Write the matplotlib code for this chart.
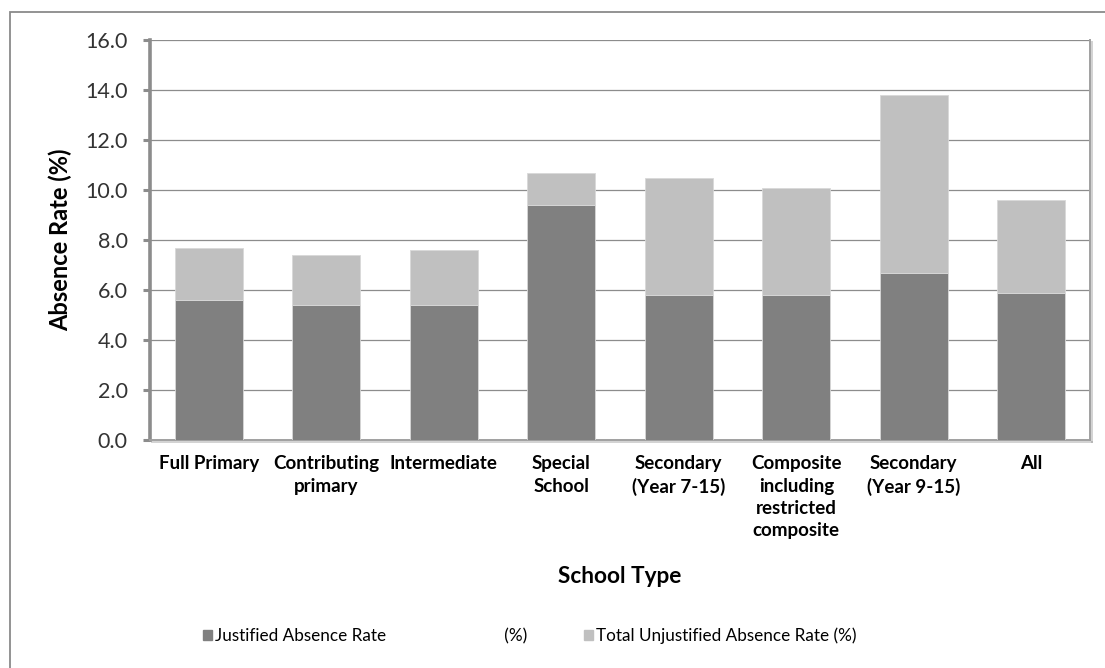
import matplotlib
matplotlib.use("Agg")
import matplotlib.pyplot as plt
import matplotlib.patheffects as pe
from matplotlib.patches import Rectangle
import numpy as np

plt.rcParams['font.family'] = ['Lato', 'DejaVu Sans']

school_types = ['Full Primary', 'Contributing\nprimary', 'Intermediate',
                'Special\nSchool', 'Secondary\n(Year 7-15)',
                'Composite\nincluding\nrestricted\ncomposite',
                'Secondary\n(Year 9-15)', 'All']
justified = [5.6, 5.4, 5.4, 9.4, 5.8, 5.8, 6.7, 5.9]
unjustified = [2.1, 2.0, 2.2, 1.3, 4.7, 4.3, 7.1, 3.7]
series_names = ['Justified Absence Rate' + ' ' * 27 + '(%)',
                'Total Unjustified Absence Rate (%)']

dark = '#808080'
light = '#c0c0c0'
frame_gray = '#8c8c8c'

W, H = 1105, 668
fig = plt.figure(figsize=(W / 100, H / 100), dpi=100)
fig.patch.set_facecolor('white')

# outer chart border (runs off the right/bottom of the canvas)
fig.patches.append(Rectangle((10 / W, -0.1), 1.2, 1 - 12 / H + 0.1,
                             transform=fig.transFigure, fill=False,
                             edgecolor='#8a8a8a', lw=1.3))

ax = fig.add_axes([150 / W, (H - 440) / H, 940 / W, 400 / H])

x = np.arange(len(school_types))
ax.bar(x, justified, width=0.58, color=dark, edgecolor='#d8d8d8', lw=0.6,
       zorder=3)
ax.bar(x, unjustified, width=0.58, bottom=justified, color=light,
       edgecolor='#d8d8d8', lw=0.6, zorder=3)

ax.set_xlim(-0.5, len(school_types) - 0.5)
ax.set_ylim(0, 16)
yt = np.arange(0, 16.1, 2)
ax.set_yticks(yt)
ax.set_yticklabels([f'{v:.1f}' for v in yt])
ax.set_xticks(x)
ax.set_xticklabels(school_types, fontweight='bold', fontsize=13.5,
                   va='top', ha='center', linespacing=1.38)

ax.yaxis.grid(True, color=frame_gray, lw=0.9, zorder=0)
ax.set_axisbelow(True)

ax.tick_params(axis='y', direction='out', length=5, width=2.2,
               color=frame_gray, pad=11, labelsize=15.5, labelcolor='#333333')
ax.tick_params(axis='x', length=0, pad=11, labelcolor='black')

ax.spines['top'].set_visible(False)
ax.spines['left'].set_color(frame_gray)
ax.spines['left'].set_linewidth(2.6)
for side in ['bottom', 'right']:
    ax.spines[side].set_color('#a0a0a0')
    ax.spines[side].set_linewidth(1.4)
    ax.spines[side].set_path_effects([
        pe.SimpleLineShadow(offset=(1.5, -1.5), shadow_color='gray', alpha=0.35),
        pe.Normal()])

ax.set_ylabel('Absence Rate (%)', fontweight='bold', fontsize=17)
ax.yaxis.set_label_coords(-0.083, 0.5)
ax.set_xlabel('School Type', fontweight='bold', fontsize=16.3, va='top')
ax.xaxis.set_label_coords(0.5, -0.315)

handles = [Rectangle((0, 0), 1, 1, color=dark), Rectangle((0, 0), 1, 1, color=light)]
fig.legend(handles, series_names, loc='center left',
           bbox_to_anchor=(203 / W, 1 - 636 / H),
           ncol=2, frameon=False, fontsize=12.3, handlelength=0.55,
           handleheight=0.55, handletextpad=0.15, columnspacing=3.3,
           borderpad=0, borderaxespad=0)

fig.savefig('out.png', dpi=100, facecolor='white')
